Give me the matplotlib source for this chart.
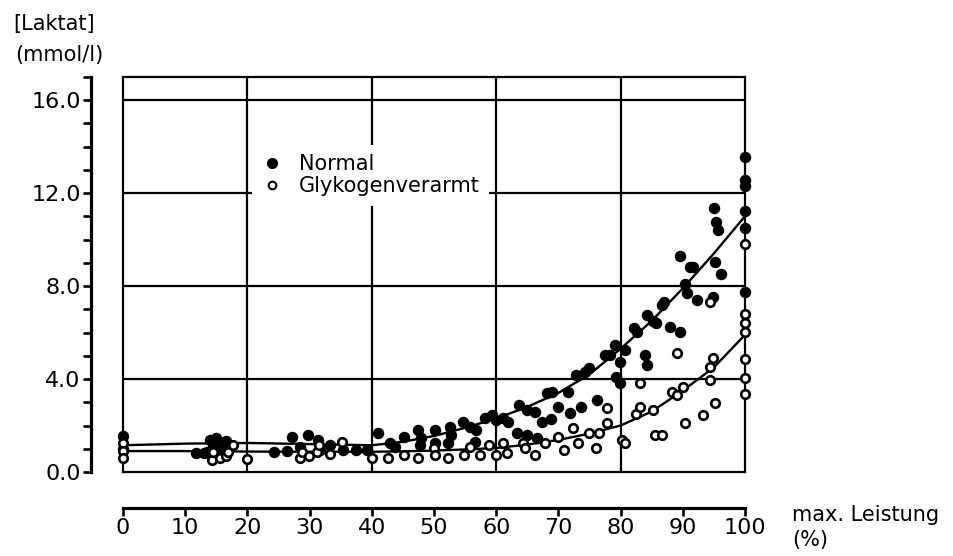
import matplotlib
matplotlib.use("Agg")
import matplotlib.pyplot as plt
from matplotlib.lines import Line2D

# ---------------- data ----------------
normal_x = [0, 0, 11.8, 13, 13.5, 14, 14.5, 15, 15.6, 16.1, 16.5,
            24.2, 26.3, 27.1, 28.5, 29.8, 31.4, 31.7, 33.3, 35.4, 37.5, 39.3,
            41, 42.9, 43.7, 45.1, 47.5, 47.7, 47.9, 50.2, 50.2, 52.3, 52.6, 52.8,
            54.7, 55.8, 56.6, 56.8, 58.2, 59.3, 60, 61.1, 61.9, 63.3, 63.6, 64.9,
            64.9, 66.2, 66.5, 67.3, 68.1, 68.8, 68.9, 70, 71.6, 71.8, 72.9, 73.7,
            74.3, 75, 76.2, 77.5, 78.3, 79.1, 79.3, 79.9, 79.9, 80.7, 82.1, 82.6,
            83.9, 84.2, 84.2, 85.2, 85.7, 86.6, 86.9, 87.9, 89.5, 89.5, 90.4, 90.6,
            91.2, 91.6, 92.3, 94.9, 95, 95.2, 95.4, 95.6, 96.1,
            100, 100, 100, 100, 100, 100]
normal_y = [1.55, 1.0, 0.83, 0.8, 0.87, 1.38, 1.09, 1.46, 1.25, 0.95, 1.35,
            0.87, 0.9, 1.52, 1.09, 1.59, 1.38, 0.95, 1.16, 0.95, 0.95, 0.95,
            1.66, 1.23, 1.09, 1.52, 1.81, 1.16, 1.45, 1.81, 1.23, 1.23, 1.95, 1.59,
            2.16, 1.95, 1.3, 1.81, 2.31, 2.45, 2.24, 2.31, 2.16, 1.66, 2.88, 2.67,
            1.59, 2.59, 1.45, 2.16, 3.38, 2.3, 3.46, 2.81, 3.46, 2.52, 4.17, 2.81,
            4.31, 4.46, 3.1, 5.03, 5.03, 5.46, 4.1, 4.74, 3.81, 5.25, 6.18, 6.04,
            5.03, 4.6, 6.75, 6.5, 6.4, 7.2, 7.33, 6.25, 6.04, 9.29, 8.09, 7.7,
            8.83, 8.83, 7.4, 7.54, 11.34, 9.05, 10.77, 10.4, 8.52,
            13.56, 12.56, 12.3, 11.22, 10.48, 7.76]

glyk_x = [0, 0, 0, 14.3, 14.5, 15.6, 16.6, 16.9, 17.7, 19.9,
          28.5, 28.8, 29.9, 31.2, 31.5, 33.3, 35.2,
          40, 42.6, 45.1, 47.5, 50, 50.2, 52.3, 54.9, 55.8, 57.4, 58.9, 60,
          61.1, 61.7, 64.3, 64.6, 66.2, 67.8, 69.9, 70.9, 72.4, 73.2, 75, 76,
          76.6, 77.8, 77.8, 80.2, 80.7, 82.4, 83.1, 83.1, 85.2, 85.5, 86.6,
          88.2, 89, 89, 90.1, 90.4, 93.3, 94.4, 94.4, 94.4, 94.9, 95.2,
          100, 100, 100, 100, 100, 100, 100]
glyk_y = [1.25, 0.9, 0.6, 0.52, 0.87, 0.62, 0.7, 0.87, 1.16, 0.56,
          0.59, 0.87, 0.69, 0.87, 1.16, 0.79, 1.28,
          0.59, 0.59, 0.73, 0.59, 1.02, 0.73, 0.59, 0.73, 1.09, 0.73, 1.16, 0.73,
          1.23, 0.8, 1.23, 1.02, 0.73, 1.23, 1.5, 0.93, 1.88, 1.23, 1.66, 1.02,
          1.66, 2.74, 2.09, 1.38, 1.23, 2.5, 2.81, 3.81, 2.67, 1.59, 1.59,
          3.46, 3.3, 5.1, 3.67, 2.09, 2.45, 3.96, 4.5, 7.33, 4.89, 2.96,
          9.8, 6.78, 6.4, 6.03, 4.85, 4.03, 3.35]

curve_x = [0, 10, 20, 30, 40, 45, 50, 55, 60, 65, 70, 75, 80, 85, 90, 95, 100]
normal_curve = [1.15, 1.22, 1.25, 1.2, 1.15, 1.3, 1.55, 1.9, 2.3, 2.8, 3.4,
                4.2, 5.3, 6.5, 7.9, 9.4, 11.0]
glyk_curve = [0.9, 0.9, 0.88, 0.87, 0.87, 0.89, 0.92, 0.97, 1.03, 1.18, 1.38,
              1.65, 2.0, 2.6, 3.5, 4.5, 5.9]

x_ticks = [0, 10, 20, 30, 40, 50, 60, 70, 80, 90, 100]
x_grid = [20, 40, 60, 80]
y_ticks = [0, 4, 8, 12, 16]
y_tick_labels = ["0.0", "4.0", "8.0", "12.0", "16.0"]
y_minor = [1, 2, 3, 5, 6, 7, 9, 10, 11, 13, 14, 15, 17]
labels = ["Normal", "Glykogenverarmt"]

# ---------------- figure ----------------
plt.rcParams['font.family'] = ['DejaVu Sans']
fig = plt.figure(figsize=(9.54, 5.56), dpi=100)
ax = fig.add_axes([123 / 954, 84 / 556, 622 / 954, 395.25 / 556])
ax.set_xlim(0, 100)
ax.set_ylim(0, 17)

lw_frame = 1.6
for gx in x_grid:
    ax.axvline(gx, color='black', lw=lw_frame, zorder=1)
for gy in y_ticks[1:]:
    ax.axhline(gy, color='black', lw=lw_frame, zorder=1)
# frame (left / bottom edges)
ax.axvline(0, color='black', lw=lw_frame, zorder=1, clip_on=False)
ax.axhline(0, color='black', lw=lw_frame, zorder=1, clip_on=False)
ax.spines['top'].set_linewidth(lw_frame)
ax.spines['right'].set_linewidth(lw_frame)

ax.plot(curve_x, normal_curve, color='black', lw=1.7, zorder=2)
ax.plot(curve_x, glyk_curve, color='black', lw=1.7, zorder=2)

ax.scatter(normal_x, normal_y, s=68, color='black', zorder=3,
           clip_on=False, linewidths=0)
ax.scatter(glyk_x, glyk_y, s=38, facecolor='white', edgecolor='black',
           linewidths=1.9, zorder=4, clip_on=False)

# separated axes
ax.spines['left'].set_position(('outward', 23))
ax.spines['bottom'].set_position(('outward', 26))
ax.spines['left'].set_linewidth(2.3)
ax.spines['bottom'].set_linewidth(2.3)

ax.set_xticks(x_ticks)
ax.set_xticklabels([str(v) for v in x_ticks])
ax.set_yticks(y_ticks)
ax.set_yticklabels(y_tick_labels)
ax.set_yticks(y_minor, minor=True)
ax.tick_params(axis='both', which='both', direction='out', length=6, width=1.9,
               labelsize=16, pad=1.5, color='black')
ax.tick_params(axis='x', pad=1)
ax.tick_params(axis='x', which='minor', bottom=False)

# legend
hn = Line2D([], [], ls='none', marker='o', ms=7, mfc='black', mec='black')
hg = Line2D([], [], ls='none', marker='o', ms=5.5, mfc='white', mec='black',
            mew=1.5)
leg = ax.legend([hn, hg], labels, loc='upper left',
                bbox_to_anchor=(0.207, 0.828), fontsize=15, frameon=True,
                fancybox=False, edgecolor='none', facecolor='white',
                framealpha=1, handlelength=1.0, handletextpad=0.8,
                labelspacing=0.1, borderpad=0.45, borderaxespad=0)
leg.set_zorder(5)

fig.text(13 / 954, 1 - 14 / 556, "[Laktat]", fontsize=15, va='top', ha='left')
fig.text(15 / 954, 1 - 45 / 556, "(mmol/l)", fontsize=15, va='top', ha='left')
fig.text(792 / 954, 1 - 505 / 556, "max. Leistung\n(%)", fontsize=15,
         va='top', ha='left', linespacing=1.3)

fig.savefig("out.png", dpi=100, facecolor='white')
